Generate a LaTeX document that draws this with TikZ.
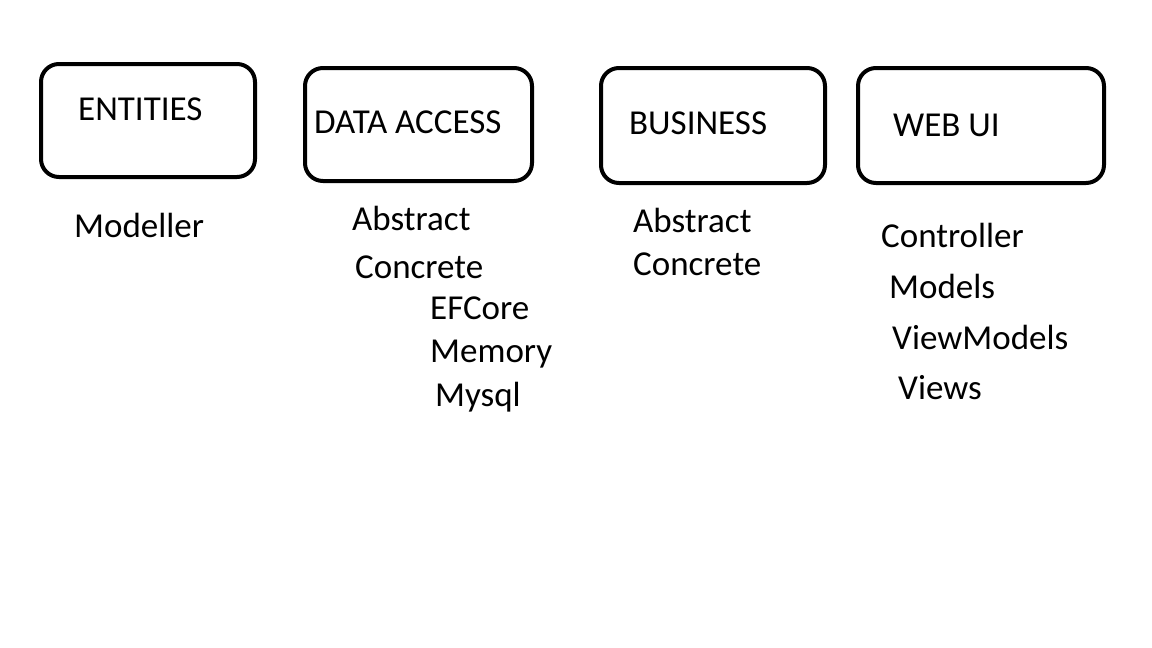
\documentclass[tikz,border=0pt]{standalone}
\usepackage{fontspec}
\setmainfont{Carlito}
\usetikzlibrary{positioning}

\begin{document}
\begin{tikzpicture}[x=1pt, y=-1pt,
            layer/.style={draw, line width=4pt, rounded corners=18pt, anchor=north west, inner sep=0pt, outer sep=0pt},
            title/.style={anchor=base west, inner sep=0pt, font=\fontsize{35}{42}\selectfont},
            item/.style={title}
        ]
            \useasboundingbox[fill=white] (0,0) rectangle (1152,648);

            % layer boxes
            \node[layer, minimum width=214pt, minimum height=113pt] (entities) at (41,64) {};
            \node[layer, minimum width=227pt, minimum height=113pt] (dataaccess) at (305,68) {};
            \node[layer, minimum width=224pt, minimum height=115pt] (business) at (601,68) {};
            \node[layer, minimum width=246pt, minimum height=115pt] (webui) at (858,68) {};

            \node[title] (entitiestitle) at (78,120) {ENTITIES};
            \node[title] (dataaccesstitle) at (314,133) {DATA ACCESS};
            \node[title] (businesstitle) at (629,134) {BUSINESS};
            \node[title] (webuititle) at (893,136) {WEB UI};

            % contents
            \node[item] (modeller) at (74,237) {Modeller};

            \node[item] (daabstract) at (352,230) {Abstract};
            \node[item] (daconcrete) at (355,278) {Concrete};
            \node[item] (efcore) at (430,319) {EFCore};
            \node[item] (memory) at (430,362) {Memory};
            \node[item] (mysql) at (435,406) {Mysql};

            \node[item] (bsabstract) at (633,232) {Abstract};
            \node[item] (bsconcrete) at (633,275) {Concrete};

            \node[item] (controller) at (881,247) {Controller};
            \node[item] (models) at (889,298) {Models};
            \node[item] (viewmodels) at (892,349) {ViewModels};
            \node[item] (views) at (898,399) {Views};
        \end{tikzpicture}
\end{document}
